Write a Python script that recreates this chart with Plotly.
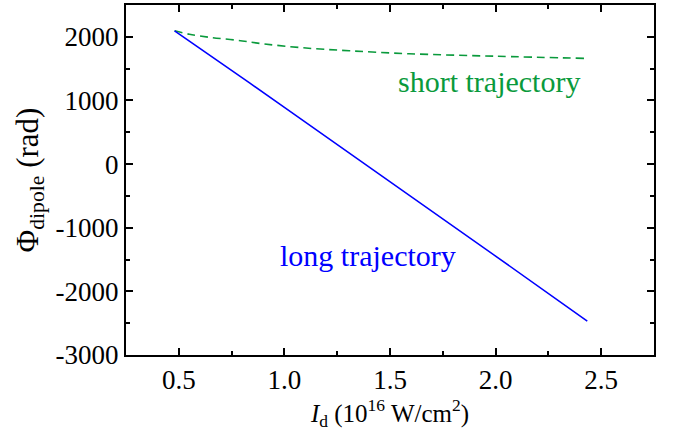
import plotly.graph_objects as go

# Data
long_x = [0.48, 0.6, 0.835, 1.0, 1.165, 1.59, 2.0, 2.434]
long_y = [2094, 1820, 1275, 890, 505, -485, -1445, -2469]
short_x = [0.48, 0.55, 0.65, 0.772, 0.9, 1.086, 1.307, 1.59, 2.0, 2.43]
short_y = [2094, 2040, 1990, 1948, 1890, 1828, 1781, 1734, 1695, 1661]

x_ticks = [0.5, 1.0, 1.5, 2.0, 2.5]
x_ticktext = ["0.5", "1.0", "1.5", "2.0", "2.5"]
y_ticks = [-3000, -2000, -1000, 0, 1000, 2000]
y_ticktext = ["-3000", "-2000", "-1000", "0", "1000", "2000"]

green = "#0A9A3C"
blue = "#0000FF"
font = "Liberation Serif"

fig = go.Figure()
fig.add_trace(go.Scatter(x=short_x, y=short_y, mode="lines", line=dict(color=green, width=1.6, dash="8px,5px", shape="spline"), showlegend=False))
fig.add_trace(go.Scatter(x=long_x, y=long_y, mode="lines", line=dict(color=blue, width=1.6), showlegend=False))

fig.add_annotation(x=1.967, y=1297, text="short trajectory", showarrow=False, font=dict(family=font, size=30, color=green))
fig.add_annotation(x=1.396, y=-1437, text="long trajectory", showarrow=False, font=dict(family=font, size=30, color=blue))

axis_common = dict(showline=True, linecolor="black", linewidth=2, mirror="allticks", ticks="inside",
                   ticklen=7, tickwidth=2, tickcolor="black", showgrid=False, zeroline=False,
                   tickfont=dict(family=font, size=27, color="black"))

fig.update_xaxes(range=[0.25, 2.75], tickvals=x_ticks, ticktext=x_ticktext,
                 minor=dict(dtick=0.25, ticks="inside", ticklen=4, tickwidth=2, tickcolor="black"),
                 title=dict(text="<i>I</i><sub>d</sub> (10<sup>16</sup> W/cm<sup>2</sup>)", font=dict(family=font, size=25, color="black"), standoff=6),
                 **axis_common)
fig.update_yaxes(range=[-3000, 2500], tickvals=y_ticks, ticktext=y_ticktext,
                 minor=dict(dtick=500, ticks="inside", ticklen=4, tickwidth=2, tickcolor="black", tick0=0),
                 title=dict(text="Φ<sub>dipole</sub> (rad)", font=dict(family=font, size=31, color="black"), standoff=8),
                 **axis_common)

fig.update_layout(width=674, height=433, margin=dict(l=126, r=20, t=3, b=78),
                  plot_bgcolor="white", paper_bgcolor="white", font=dict(family=font, size=24))

fig.write_html("out.html")
